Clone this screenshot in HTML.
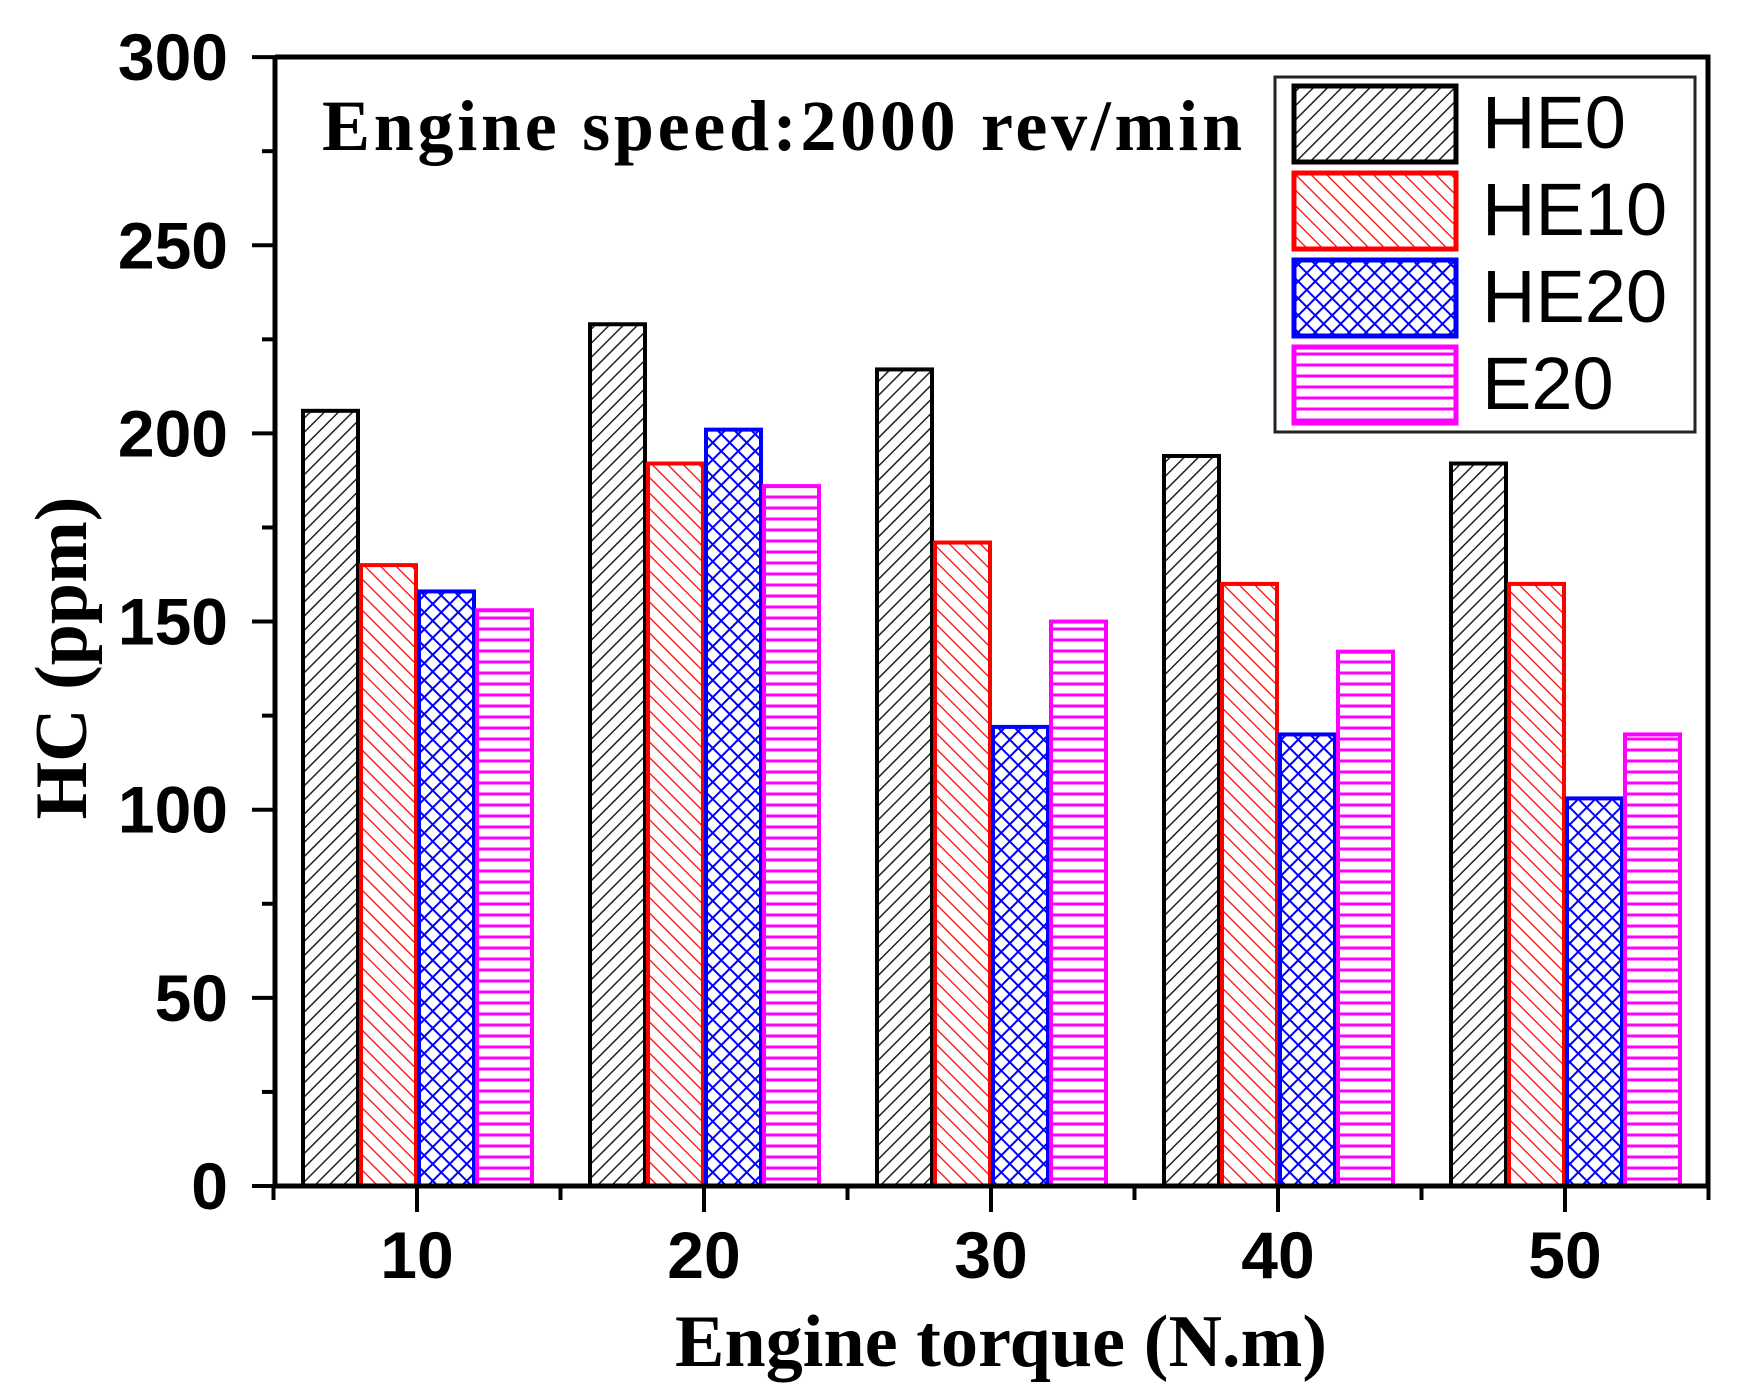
<!DOCTYPE html>
<html><head><meta charset="utf-8"><style>body{margin:0;background:#fff}svg{display:block}</style></head>
<body>
<svg width="1746" height="1397" viewBox="0 0 1746 1397" xmlns="http://www.w3.org/2000/svg">
<defs>
<pattern id="pk" width="10" height="10" patternUnits="userSpaceOnUse" patternTransform="rotate(45)">
<rect width="10" height="10" fill="#fff"/><line x1="0" y1="0" x2="0" y2="10" stroke="#222" stroke-width="3"/></pattern>
<pattern id="pr" width="11" height="11" patternUnits="userSpaceOnUse" patternTransform="rotate(-45)">
<rect width="11" height="11" fill="#fff"/><line x1="0" y1="0" x2="0" y2="11" stroke="#f00" stroke-width="2.5"/></pattern>
<pattern id="pb" width="12" height="12" patternUnits="userSpaceOnUse" patternTransform="rotate(45)">
<rect width="12" height="12" fill="#fff"/><line x1="0" y1="0" x2="0" y2="12" stroke="#00f" stroke-width="4"/><line x1="0" y1="0" x2="12" y2="0" stroke="#00f" stroke-width="4"/></pattern>
<pattern id="pm" width="12" height="11" patternUnits="userSpaceOnUse">
<rect width="12" height="11" fill="#fff"/><line x1="0" y1="2" x2="12" y2="2" stroke="#f0f" stroke-width="3"/></pattern>
</defs>
<g id="bars"></g>
<g stroke="#000" stroke-width="5" fill="none">
<path d="M275,57 V1186 H1708 V57 H275"/>
</g>
<g id="ticks" stroke="#000" stroke-width="4"></g>
<g font-family="Liberation Sans, Arial, sans-serif" font-weight="bold" font-size="66" text-anchor="end" id="ylab"></g>
<g font-family="Liberation Sans, Arial, sans-serif" font-weight="bold" font-size="66" text-anchor="middle">
<text x="417" y="1278">10</text><text x="704" y="1278">20</text><text x="991" y="1278">30</text><text x="1278" y="1278">40</text><text x="1565" y="1278">50</text>
</g>
<text x="322" y="150" font-family="Liberation Serif, serif" font-weight="bold" font-size="72" textLength="920">Engine speed:2000 rev/min</text>
<text x="675" y="1366" font-family="Liberation Serif, serif" font-weight="bold" font-size="74" textLength="652">Engine torque (N.m)</text>
<text transform="translate(86,658) rotate(-90)" text-anchor="middle" font-family="Liberation Serif, serif" font-weight="bold" font-size="74">HC (ppm)</text>
<rect x="1275" y="77" width="420" height="355" fill="#fff" stroke="#222" stroke-width="3"/>
<rect x="1294" y="86" width="162" height="76" fill="url(#pk)" stroke="#000" stroke-width="5"/>
<rect x="1294" y="173" width="162" height="76" fill="url(#pr)" stroke="#f00" stroke-width="5"/>
<rect x="1294" y="260" width="162" height="76" fill="url(#pb)" stroke="#00f" stroke-width="5"/>
<rect x="1294" y="347" width="162" height="76" fill="url(#pm)" stroke="#f0f" stroke-width="5"/>
<g font-family="Liberation Sans, Arial, sans-serif" font-size="74">
<text x="1482" y="148">HE0</text><text x="1482" y="235">HE10</text><text x="1482" y="322">HE20</text><text x="1482" y="409">E20</text>
</g>
<script>
var ns="http://www.w3.org/2000/svg";
function el(p,t,a){var e=document.createElementNS(ns,t);for(var k in a)e.setAttribute(k,a[k]);p.appendChild(e);return e;}
var Y=function(v){return 1186-v*3.763;};
var data=[[206,229,217,194,192],[165,192,171,160,160],[158,201,122,120,103],[153,186,150,142,120]];
var fills=["url(#pk)","url(#pr)","url(#pb)","url(#pm)"],strokes=["#000","#f00","#00f","#f0f"];
var bars=document.getElementById("bars");
for(var g=0;g<5;g++){var c=417+287*g;for(var s=0;s<4;s++){var x=c-116+58*s,y=Y(data[s][g]);
el(bars,"rect",{x:x+2,y:y,width:55,height:1186-y,fill:fills[s],stroke:strokes[s],"stroke-width":4});}}
var t=document.getElementById("ticks"),yl=document.getElementById("ylab");
for(var v=0;v<=300;v+=25){var y=Y(v);el(t,"line",{x1:v%50?262:252,y1:y,x2:275,y2:y});
if(v%50==0){var tx=el(yl,"text",{x:228,y:y+23});tx.textContent=v;}}
for(var i=0;i<=10;i++){var x=273.5+143.5*i;el(t,"line",{x1:x,y1:1186,x2:x,y2:(i%2)?1212:1200});}
</script>
</svg>
</body></html>
